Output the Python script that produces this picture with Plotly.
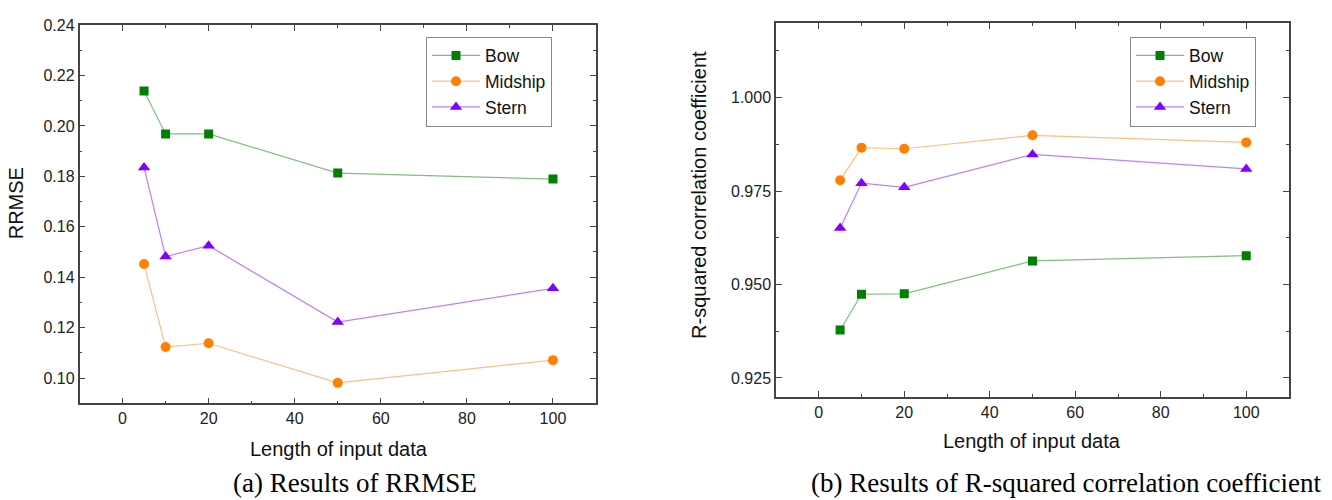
import plotly.graph_objects as go

x_len = [5, 10, 20, 50, 100]

rrmse_bow = [0.2138, 0.1968, 0.1968, 0.1813, 0.1789]
rrmse_mid = [0.1452, 0.1123, 0.1138, 0.0981, 0.1071]
rrmse_stern = [0.1835, 0.1482, 0.1525, 0.1222, 0.1356]

r2_bow = [0.9378, 0.9474, 0.9475, 0.9563, 0.9577]
r2_mid = [0.9779, 0.9866, 0.9863, 0.9899, 0.9880]
r2_stern = [0.9651, 0.9771, 0.9760, 0.9848, 0.9809]

series_names = ["Bow", "Midship", "Stern"]
marker_colors = ["#008000", "#ff8000", "#8000ff"]
line_colors = ["rgba(0,128,0,0.5)", "rgba(255,128,0,0.5)", "rgba(128,0,255,0.5)"]
symbols = ["square", "circle", "triangle-up"]
sizes = [9, 10, 11]

fig = go.Figure()

for i, (name, ys) in enumerate(zip(series_names, [rrmse_bow, rrmse_mid, rrmse_stern])):
    fig.add_trace(go.Scatter(
        x=x_len, y=ys, name=name, mode="lines+markers",
        line=dict(color=line_colors[i], width=1.2),
        marker=dict(color=marker_colors[i], symbol=symbols[i], size=sizes[i]),
        xaxis="x", yaxis="y", legend="legend"))

for i, (name, ys) in enumerate(zip(series_names, [r2_bow, r2_mid, r2_stern])):
    fig.add_trace(go.Scatter(
        x=x_len, y=ys, name=name, mode="lines+markers",
        line=dict(color=line_colors[i], width=1.2),
        marker=dict(color=marker_colors[i], symbol=symbols[i], size=sizes[i]),
        xaxis="x2", yaxis="y2", legend="legend2"))

axis_common = dict(
    showline=True, linecolor="#444", linewidth=1.5, mirror="allticks",
    ticks="inside", ticklen=6, tickwidth=1.3, tickcolor="#444",
    showgrid=False, zeroline=False,
    tickfont=dict(family="Liberation Sans, Arial", size=16, color="#222"),
)
minor_common = dict(ticks="inside", ticklen=3, tickcolor="#444", tickwidth=1.2)

title_font = dict(family="Liberation Sans, Arial", size=20, color="#111")
cap_font = dict(family="Liberation Serif, Times New Roman", size=27, color="#000")
leg_font = dict(family="Liberation Sans, Arial", size=17.5, color="#111")

fig.update_layout(
    width=1332, height=500,
    margin=dict(l=0, r=0, t=0, b=0),
    paper_bgcolor="white", plot_bgcolor="white",
    xaxis=dict(domain=[79.5/1332, 596/1332], range=[-10, 110], dtick=20, tick0=0,
               minor=dict(dtick=10, **minor_common),
               anchor="y", **axis_common),
    yaxis=dict(domain=[1-401.7/500, 1-17.3/500], range=[0.09, 0.24], dtick=0.02, tick0=0.10,
               tickformat=".2f",
               minor=dict(dtick=0.01, **minor_common),
               anchor="x", **axis_common),
    xaxis2=dict(domain=[776/1332, 1289/1332], range=[-10, 110], dtick=20, tick0=0,
                minor=dict(dtick=10, **minor_common),
                anchor="y2", **axis_common),
    yaxis2=dict(domain=[1-395/500, 1-15/500], range=[0.92, 1.02], dtick=0.025, tick0=0.925,
                tickformat=".3f",
                minor=dict(dtick=0.0125, **minor_common),
                anchor="x2", **axis_common),
    legend=dict(x=426/1332, y=1-29/500, xanchor="left", yanchor="top",
                bordercolor="#888", borderwidth=1, bgcolor="white",
                font=leg_font, tracegroupgap=0, itemwidth=48),
    legend2=dict(x=1130/1332, y=1-29/500, xanchor="left", yanchor="top",
                 bordercolor="#888", borderwidth=1, bgcolor="white",
                 font=leg_font, tracegroupgap=0, itemwidth=48),
    annotations=[
        dict(text="Length of input data", x=339/1332, y=1-448/500, xref="paper", yref="paper",
             xanchor="center", yanchor="middle", showarrow=False, font=title_font),
        dict(text="Length of input data", x=1032/1332, y=1-440/500, xref="paper", yref="paper",
             xanchor="center", yanchor="middle", showarrow=False, font=title_font),
        dict(text="RRMSE", x=15.5/1332, y=1-199/500, xref="paper", yref="paper", textangle=-90,
             xanchor="center", yanchor="middle", showarrow=False, font=title_font),
        dict(text="R-squared correlation coefficient", x=699/1332, y=1-190/500, xref="paper",
             yref="paper", textangle=-90, xanchor="center", yanchor="middle",
             showarrow=False, font=title_font),
        dict(text="(a) Results of RRMSE", x=355/1332, y=1-483/500, xref="paper", yref="paper",
             xanchor="center", yanchor="middle", showarrow=False, font=cap_font),
        dict(text="(b) Results of R-squared correlation coefficient", x=1066/1332, y=1-483/500,
             xref="paper", yref="paper", xanchor="center", yanchor="middle",
             showarrow=False, font=cap_font),
    ],
)

fig.write_html("out.html")
